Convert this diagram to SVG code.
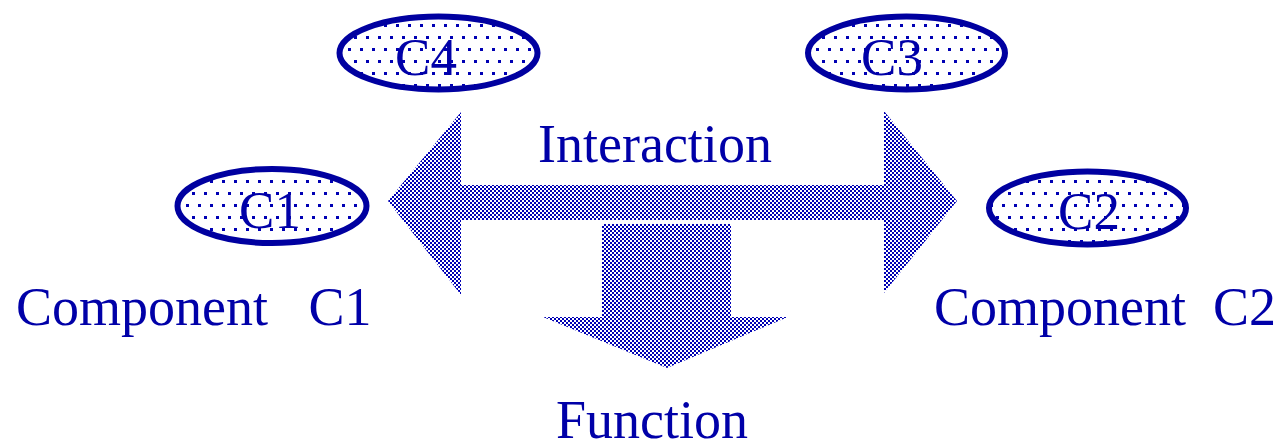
<svg xmlns="http://www.w3.org/2000/svg" width="1279" height="445" viewBox="0 0 1279 445">
<style>
.lbl{font-family:"Liberation Serif","Times New Roman",serif;font-size:54px;fill:#0000a8}
.nl{font-family:"Liberation Serif","Times New Roman",serif;font-size:53px;fill:#0000a8;text-anchor:middle}
.node{fill:url(#dots);stroke:#0000a0;stroke-width:6}
.big{fill:url(#check)}
.px{shape-rendering:crispEdges}
</style>
<defs>
<pattern id="check" patternUnits="userSpaceOnUse" width="4" height="4">
<rect class="px" width="4" height="4" fill="#ffffff"/>
<rect class="px" x="0" y="0" width="2" height="2" fill="#0000b4"/>
<rect class="px" x="2" y="2" width="2" height="2" fill="#0000b4"/>
</pattern>
<pattern id="dots" patternUnits="userSpaceOnUse" width="12" height="24">
<rect class="px" width="12" height="24" fill="#ffffff"/>
<rect class="px" x="0" y="0" width="3" height="3" fill="#0000b4"/>
<rect class="px" x="6" y="12" width="3" height="3" fill="#0000b4"/>
</pattern>
</defs>
<g id="connectors">
<polygon id="interaction-arrow" class="big" points="388,201 461,112 461,185 884,185 884,111 957,201 884,293 884,220 461,220 461,295"/>
<polygon id="function-arrow" class="big" points="602,224 731,224 731,317 788,317 667,368 543,317 602,317"/>
</g>
<g id="C4"><ellipse class="node" cx="438.5" cy="53" rx="99" ry="36.5"/><text class="nl" x="426" y="75">C4</text></g>
<g id="C3"><ellipse class="node" cx="906.5" cy="53" rx="98.5" ry="36.5"/><text class="nl" x="892" y="75">C3</text></g>
<g id="C1"><ellipse class="node" cx="272" cy="206" rx="94.5" ry="37"/><text class="nl" x="270" y="228">C1</text></g>
<g id="C2"><ellipse class="node" cx="1087.5" cy="208" rx="98.5" ry="36.5"/><text class="nl" x="1089" y="229">C2</text></g>
<g id="labels">
<text class="lbl" x="538" y="162">Interaction</text>
<text class="lbl" x="16" y="325" xml:space="preserve">Component   C1</text>
<text class="lbl" x="934" y="325" xml:space="preserve">Component  C2</text>
<text class="lbl" x="556" y="438">Function</text>
</g>
</svg>
